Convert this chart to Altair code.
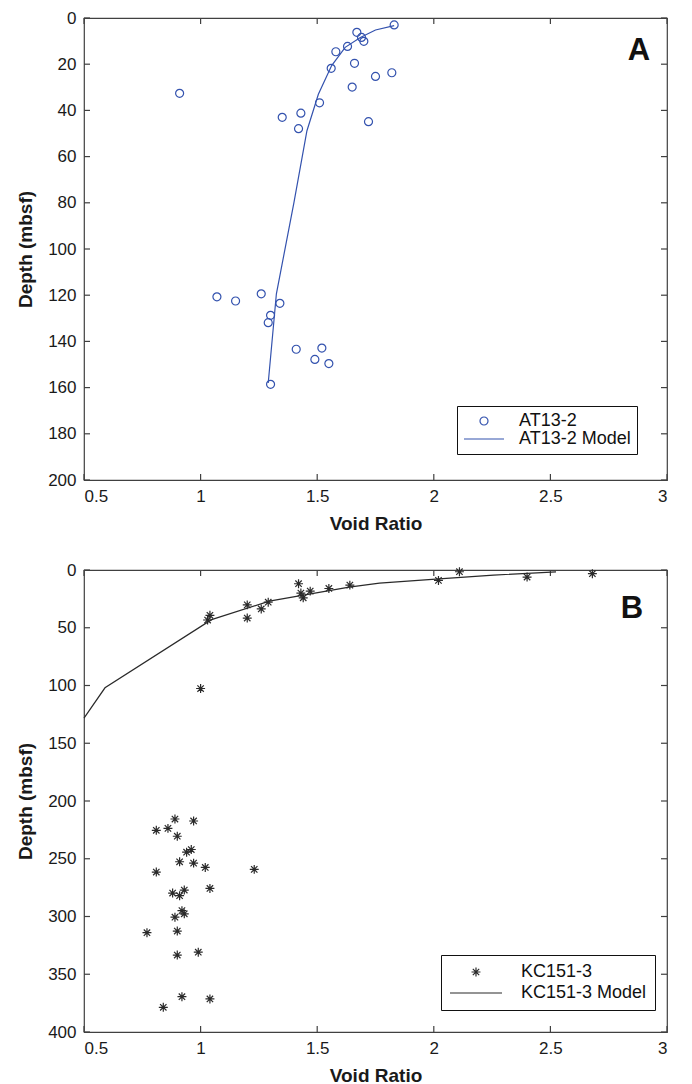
import altair as alt
import pandas as pd

# ---------------- data ----------------
a_void = [1.83, 1.67, 1.69, 1.70, 1.63, 1.58, 1.66, 1.56, 1.82, 1.75, 0.91, 1.65, 1.51, 1.43,
          1.35, 1.72, 1.42, 1.07, 1.15, 1.26, 1.34, 1.30, 1.29, 1.41, 1.52, 1.49, 1.55, 1.30]
a_depth = [3.0, 6.2, 8.4, 10.1, 12.3, 14.6, 19.6, 21.8, 23.7, 25.3, 32.6, 29.9, 36.7, 41.2,
           43.0, 44.9, 47.9, 120.7, 122.5, 119.4, 123.5, 128.7, 131.9, 143.4, 142.9, 147.8, 149.6, 158.6]
a_model_void = [1.29, 1.325, 1.40, 1.456, 1.505, 1.562, 1.62, 1.685, 1.75, 1.83]
a_model_depth = [158.0, 119.4, 80.0, 48.8, 33.0, 20.6, 12.7, 8.4, 5.2, 3.3]

b_void = [2.68, 2.11, 2.40, 2.02, 1.64, 1.55, 1.42, 1.47, 1.43, 1.44, 1.29, 1.20, 1.26, 1.20,
          1.04, 1.03, 1.00,
          0.89, 0.97, 0.81, 0.86, 0.90, 0.96, 0.94, 0.91, 0.97, 1.02, 1.23, 0.81,
          1.04, 0.93, 0.88, 0.91, 0.92, 0.93, 0.89, 0.77, 0.90, 0.99, 0.90, 0.92, 1.04, 0.84]
b_depth = [3.2, 1.5, 6.1, 9.0, 13.1, 16.0, 11.9, 18.3, 20.0, 24.1, 27.9, 30.2, 33.7, 41.6,
           39.2, 43.3, 102.6,
           215.6, 217.3, 225.4, 223.7, 230.5, 242.0, 244.3, 252.6, 253.8, 257.5, 259.2, 261.5,
           275.7, 277.1, 279.7, 282.0, 294.9, 297.7, 300.6, 314.0, 312.6, 330.9, 333.4, 369.4, 371.4, 378.6]
b_model_void = [0.50, 0.59, 1.047, 1.295, 1.441, 1.637, 1.767, 2.023, 2.256, 2.524]
b_model_depth = [128.2, 102.0, 43.0, 27.0, 21.8, 14.8, 11.3, 7.6, 4.4, 1.7]

x_ticks = [0.5, 1, 1.5, 2, 2.5, 3]
a_depth_ticks = [0, 20, 40, 60, 80, 100, 120, 140, 160, 180, 200]
b_depth_ticks = [0, 50, 100, 150, 200, 250, 300, 350, 400]
panel_labels = ["A", "B"]
series_a = ["AT13-2", "AT13-2 Model"]
series_b = ["KC151-3", "KC151-3 Model"]

# ---------------- style ----------------
BLUE = "#3352AE"
DARK = "#2a2a2a"
AX = "#404040"
FONT = "Liberation Sans"
W, H = 583, 462
TICK = 6

circle_path = "M0.5,0A0.5,0.5,0,1,1,-0.5,0A0.5,0.5,0,1,1,0.5,0Z"
star_path = ("M-0.56,0L0.56,0M0,-0.56L0,0.56"
             "M-0.4,-0.4L0.4,0.4M-0.4,0.4L0.4,-0.4")
line_a_path = "M-2.5,0L2.5,0"
line_b_path = "M-3.25,0L3.25,0"


def make_panel(pts_x, pts_y, mod_x, mod_y, yticks, ymax, series, shapes, color,
               label, lab_x, lab_y, leg_x, leg_y, leg_pad, leg_sym_off, leg_lab_off,
               leg_row, leg_font):
    df_pts = pd.DataFrame({"void": pts_x, "depth": pts_y, "series": series[0]})
    df_mod = pd.DataFrame({"void": mod_x, "depth": mod_y, "ord": list(range(len(mod_x)))})
    df_lab = pd.DataFrame({"t": [label]})
    df_xt = pd.DataFrame({"v": x_ticks})
    df_yt = pd.DataFrame({"d": yticks})

    xs = alt.Scale(domain=[0.5, 3], nice=False, zero=False)
    ys = alt.Scale(domain=[0, ymax], reverse=True, nice=False, zero=False)

    xb = alt.Axis(orient="bottom", values=x_ticks, format="~g", title="Void Ratio",
                  ticks=False, labelPadding=8, titlePadding=10, domain=False)
    yl = alt.Axis(orient="left", values=yticks, title="Depth (mbsf)",
                  ticks=False, labelPadding=8, titlePadding=12, domain=False)

    pts = alt.Chart(df_pts).mark_point(
        filled=False, size=256, strokeWidth=1.2, color=color, opacity=1
    ).encode(
        x=alt.X("void:Q", scale=xs, axis=xb),
        y=alt.Y("depth:Q", scale=ys, axis=yl),
        shape=alt.Shape(
            "series:N",
            scale=alt.Scale(domain=series, range=shapes),
            legend=alt.Legend(
                title=None, orient="none", legendX=leg_x, legendY=leg_y,
                strokeColor="#111111", fillColor="white", padding=leg_pad,
                symbolSize=256, symbolStrokeWidth=1.2, symbolStrokeColor=color,
                symbolFillColor="transparent", symbolOffset=leg_sym_off,
                labelOffset=leg_lab_off, labelFont=FONT, labelFontSize=leg_font,
                labelColor="#111111", rowPadding=leg_row, labelLimit=300,
            ),
        ),
    )

    line = alt.Chart(df_mod).mark_line(color=color, strokeWidth=1.2).encode(
        x=alt.X("void:Q", scale=xs),
        y=alt.Y("depth:Q", scale=ys),
        order=alt.Order("ord:Q"),
    )

    tick_style = dict(color=AX, strokeWidth=1.2)
    t_top = alt.Chart(df_xt).mark_rule(**tick_style).encode(
        x=alt.X("v:Q", scale=xs), y=alt.value(0), y2=alt.value(TICK))
    t_bot = alt.Chart(df_xt).mark_rule(**tick_style).encode(
        x=alt.X("v:Q", scale=xs), y=alt.value(H - TICK), y2=alt.value(H))
    t_left = alt.Chart(df_yt).mark_rule(**tick_style).encode(
        y=alt.Y("d:Q", scale=ys), x=alt.value(0), x2=alt.value(TICK))
    t_right = alt.Chart(df_yt).mark_rule(**tick_style).encode(
        y=alt.Y("d:Q", scale=ys), x=alt.value(W - TICK), x2=alt.value(W))

    lab = alt.Chart(df_lab).mark_text(
        font=FONT, fontSize=31, fontWeight="bold", color="#111111",
        align="center", baseline="middle"
    ).encode(
        text="t:N",
        x=alt.value(lab_x),
        y=alt.value(lab_y),
    )

    return alt.layer(t_top, t_bot, t_left, t_right, line, pts, lab).properties(width=W, height=H)


panel_a = make_panel(a_void, a_depth, a_model_void, a_model_depth, a_depth_ticks, 200,
                     series_a, [circle_path, line_a_path], BLUE, panel_labels[0],
                     W - 28, 33, 373, 388, 6, 12, 26, 0, 18)
panel_b = make_panel(b_void, b_depth, b_model_void, b_model_depth, b_depth_ticks, 400,
                     series_b, [star_path, line_b_path], DARK, panel_labels[1],
                     W - 35, 39, 357, 385, 8, 18, 36, 3, 18)

chart = alt.vconcat(panel_a, panel_b, spacing=26).resolve_scale(
    x="independent", y="independent", shape="independent"
).resolve_legend(shape="independent").properties(
    padding={"left": 8, "top": 0, "right": 5, "bottom": 0}
).configure_axis(
    grid=False, labelFont=FONT, labelFontSize=17, labelColor="#1a1a1a",
    titleFont=FONT, titleFontSize=19, titleFontWeight="bold", titleColor="#1a1a1a",
).configure_view(stroke=AX, strokeWidth=1.2)

chart.save("out.html", embed_options={"renderer": "svg", "actions": False})
